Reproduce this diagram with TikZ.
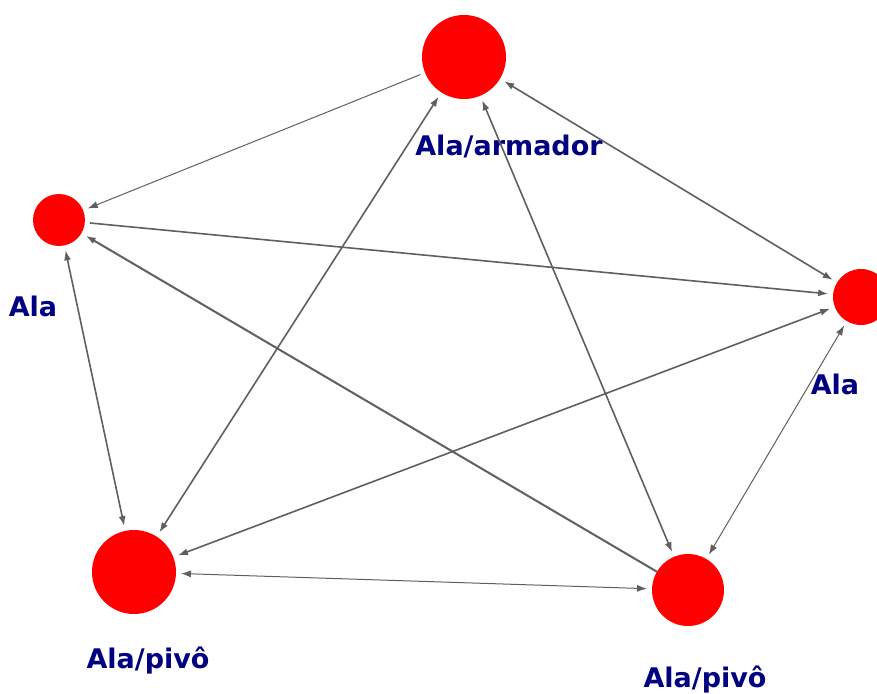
\documentclass[tikz,border=0pt]{standalone}
\usepackage{fontspec}
\setmainfont{DejaVu Sans}
\usetikzlibrary{arrows.meta}
\definecolor{navy}{RGB}{0,0,128}
\definecolor{edgegray}{RGB}{95,95,95}
\tikzset{
  player/.style={circle, fill=red, draw=none, inner sep=0pt, outer sep=5pt},
  lbl/.style={text=navy, font=\bfseries\fontsize{27}{30}\selectfont, inner sep=0pt, anchor=base},
  link/.style={draw=edgegray, line width=1.6pt},
  thinlink/.style={draw=edgegray, line width=1.0pt},
  tip/.style={arrows={-{Latex[length=10pt,width=7pt]}}},
  both/.style={arrows={{Latex[length=10pt,width=7pt]}-{Latex[length=10pt,width=7pt]}}}
}
\begin{document}
\begin{tikzpicture}[x=1pt,y=-1pt]
\useasboundingbox (0,0) rectangle (877,693);
\clip (0,0) rectangle (877,693);
\node[player, minimum size=84pt] (aa) at (464,57) {};
\node[player, minimum size=52pt] (al) at (59,220) {};
\node[player, minimum size=56pt] (ar) at (861,297) {};
\node[player, minimum size=84pt] (pl) at (134,572) {};
\node[player, minimum size=72pt] (pr) at (688,590) {};

\node[lbl] (laa) at (509,155) {Ala/armador};
\node[lbl] (lal) at (33,316) {Ala};
\node[lbl] (lar) at (835,394) {Ala};
\node[lbl] (lpl) at (148,668) {Ala/pivô};
\node[lbl] (lpr) at (705,687) {Ala/pivô};

\draw[thinlink, tip] (aa) -- (al);
\draw[link, tip] (al) -- (ar);
\draw[link, line width=2pt, tip, shorten <=-5pt] (pr) -- (al);
\draw[link, both] (al) -- (pl);
\draw[link, both] (pl) -- (aa);
\draw[link, both] (pr) -- (aa);
\draw[link, both] (aa) -- (ar);
\draw[link, both] (ar) -- (pl);
\draw[thinlink, both] (ar) -- (pr);
\draw[thinlink, both] (pl) -- (pr);
\end{tikzpicture}
\end{document}
